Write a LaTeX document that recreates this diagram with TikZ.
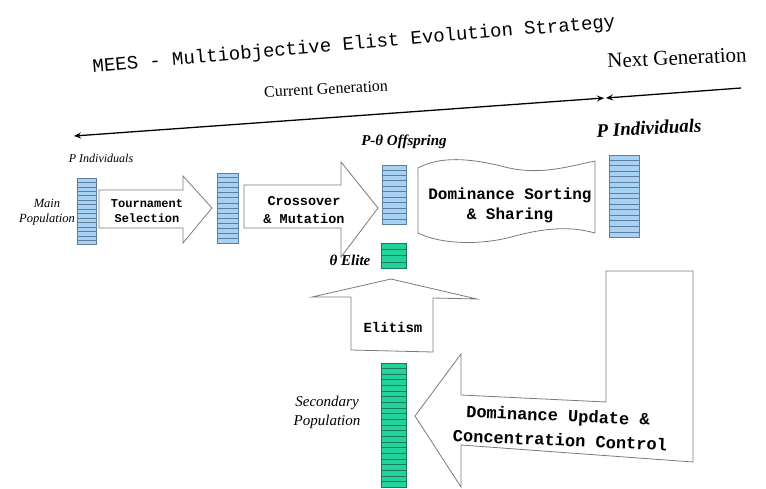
\documentclass[tikz,border=0pt]{standalone}
\usepackage{fontspec}
\setmainfont{Liberation Serif}
\setmonofont{Liberation Mono}
\usetikzlibrary{calc,arrows.meta}
\definecolor{bluefill}{HTML}{A8D2F4}
\definecolor{bluestroke}{HTML}{5F7E9C}
\definecolor{greenfill}{HTML}{22D49C}
\definecolor{greenstroke}{HTML}{1B7A5C}
\definecolor{shapestroke}{HTML}{7A7A7A}
\newcommand\fsz[1]{\fontsize{#1}{#1}\selectfont}
\newcommand\popbox[7]{%
  \node[#7, minimum width=#4pt, minimum height=#5pt] (#1) at (#2,#3) {};
  \foreach \i in {1,...,#6} {
    \draw[#7stripe] ($(#1.north west)!\i/(#6+1)!(#1.south west)$) -- ($(#1.north east)!\i/(#6+1)!(#1.south east)$);
  }
}
\begin{document}
\begin{tikzpicture}[x=1pt,y=-1pt,
  >={Stealth[length=7pt,width=6pt]},
  bluepop/.style={draw=bluestroke, fill=bluefill, line width=0.9pt, inner sep=0pt},
  bluepopstripe/.style={draw=bluestroke, line width=0.8pt},
  greenpop/.style={draw=greenstroke, fill=greenfill, line width=0.9pt, inner sep=0pt},
  greenpopstripe/.style={draw=greenstroke, line width=0.8pt},
  bigshape/.style={draw=shapestroke, fill=white, line width=0.8pt, line join=miter},
  monotxt/.style={font=\ttfamily\bfseries, align=center, inner sep=0pt},
  lbl/.style={font=\itshape, align=center, inner sep=0pt},
  genline/.style={draw=black, line width=1.3pt}]
\useasboundingbox (0,0) rectangle (766,488);

% title and generation labels
\node[font=\ttfamily\fsz{19}, rotate=5, inner sep=0pt] (title) at (354,45) {MEES - Multiobjective Elist Evolution Strategy};
\node[font=\fsz{16}, rotate=3, inner sep=0pt] (curgen) at (326,89) {Current Generation};
\node[font=\fsz{21}, rotate=2.5, inner sep=0pt] (nextgen) at (677,58) {Next Generation};

\coordinate (cgL) at (74,136);
\coordinate (cgR) at (604,98);
\coordinate (ngR) at (741,88);
\coordinate (ngL) at (606,98);
\draw[genline, <->] (cgL) -- (cgR);
\draw[genline, ->] (ngR) -- (ngL);

% arrows / process shapes
\draw[bigshape] (99,190) -- (183,190) -- (183,176) -- (212,208) -- (183,243) -- (183,228) -- (99,228) -- cycle;
\node[monotxt, font=\ttfamily\bfseries\fsz{12}] (tourn) at (147,211) {Tournament\\[3pt]Selection};

\draw[bigshape] (244,185) -- (341,185) -- (341,162) -- (378,208) -- (341,257) -- (341,228) -- (244,228) -- cycle;
\node[monotxt, font=\ttfamily\bfseries\fsz{13.5}] (cross) at (304,210) {Crossover\\[5pt]\& Mutation};

\draw[bigshape] (418,168) .. controls (440,156) and (470,158) .. (505,167)
  .. controls (540,176) and (570,166) .. (595,161) -- (595,233)
  .. controls (570,226) and (545,228) .. (515,236)
  .. controls (480,246) and (440,244) .. (418,233) -- cycle;
\node[monotxt, font=\ttfamily\bfseries\fsz{16}] (domsort) at (510,205) {Dominance Sorting\\[4pt]\& Sharing};

\draw[bigshape] (351,297) -- (312,297) -- (391,279) -- (477,299) -- (433,298) -- (433,352) -- (351,350) -- cycle;
\node[monotxt, font=\ttfamily\bfseries\fsz{14}] (elitism) at (393,327) {Elitism};

\draw[bigshape] (415,416) -- (461,354) -- (461,395) -- (606,402) -- (606,271) -- (693,271) -- (693,462) -- (461,445) -- (461,487) -- cycle;
\node[monotxt, font=\ttfamily\bfseries\fsz{17}, rotate=-2.5] (domupd1) at (558,417) {Dominance Update \&};
\node[monotxt, font=\ttfamily\bfseries\fsz{17}, rotate=-2.5] (domupd2) at (560,440) {Concentration Control};

% populations
\popbox{mainpop}{86.5}{211.5}{19}{66}{14}{bluepop}
\popbox{selpop}{227.5}{208}{21}{70}{13}{bluepop}
\popbox{offpop}{394}{194.5}{24}{59}{10}{bluepop}
\popbox{nextpop}{624}{196}{30}{82}{14}{bluepop}
\popbox{elitepop}{393.5}{255.5}{25}{25}{3}{greenpop}
\popbox{secpop}{393.5}{425}{25}{124}{21}{greenpop}

% labels
\node[lbl, font=\itshape\fsz{12}] (pind1) at (101,158) {P Individuals};
\node[lbl, font=\itshape\fsz{12.5}] (mainlbl) at (47,212) {Main\\[3pt]Population};
\node[lbl, font=\bfseries\itshape\fsz{15}] (offlbl) at (404,142) {P-θ Offspring};
\node[lbl, font=\bfseries\itshape\fsz{15}] (elitelbl) at (350,260) {θ Elite};
\node[lbl, font=\bfseries\itshape\fsz{19}, rotate=3] (pind2) at (649,128) {P Individuals};
\node[lbl, font=\itshape\fsz{15}] (seclbl) at (327,412) {Secondary\\[4pt]Population};
\end{tikzpicture}
\end{document}
